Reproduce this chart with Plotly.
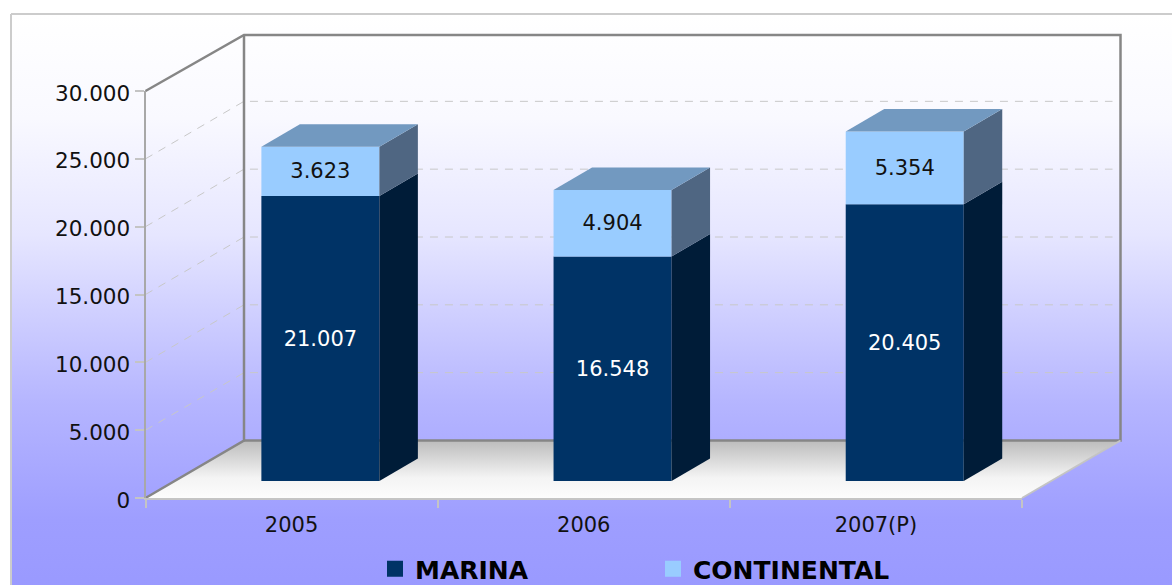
import plotly.graph_objects as go

CATEGORIES = ["2005", "2006", "2007(P)"]
MARINA = [21007, 16548, 20405]
CONTINENTAL = [3623, 4904, 5354]
Y_TICKS = [0, 5000, 10000, 15000, 20000, 25000, 30000]

W, H = 1172, 585
LEFT, RIGHT, BOTTOM, TOP = 145.5, 1022, 498, 91
PX_X = (RIGHT - LEFT) / 3
PX_Y = (BOTTOM - TOP) / 30000


def dx(px):
    return px / PX_X


def dy(px):
    return px / PX_Y


def X(px):
    return -0.5 + (px - LEFT) / PX_X


def Y(py):
    return (BOTTOM - py) / PX_Y


WALL_DX, WALL_DY = dx(98.5), dy(57.5)
WALL_TOP = 30000 + WALL_DY - dy(1.5)
BAR_SHIFT_X, BAR_SHIFT_Y = dx(28.8), dy(17)
BAR_W = dx(118)
BAR_DX, BAR_DY = dx(38.5), dy(22.5)
X0, X1 = -0.5, 2.5

fig = go.Figure()


def poly(xs, ys, fill=None, line=None, lw=0, dash=None, axes=("x", "y"), **kw):
    fig.add_trace(go.Scatter(
        x=xs, y=ys, mode="lines", xaxis=axes[0], yaxis=axes[1], showlegend=False,
        hoverinfo="skip",
        fill="toself" if fill or "fillgradient" in kw else "none",
        fillcolor=fill,
        line=dict(color=line or "rgba(0,0,0,0)", width=lw, dash=dash), **kw))


def back(v):
    return v + WALL_DY


# background panel
bx = [X(11), X(1180), X(1180), X(11), X(11)]
by = [Y(14), Y(14), Y(595), Y(595), Y(14)]
poly(bx, by, line="#cccccc", lw=2, fillgradient=dict(
    type="vertical",
    colorscale=[[0, "#9999ff"], [0.13, "#9e9eff"], [0.33, "#b5b5ff"], [0.62, "#e6e6ff"],
                [0.82, "#f9f9ff"], [1, "#ffffff"]],
))

# floor
poly([X0, X1, X1 + WALL_DX, X0 + WALL_DX, X0], [0, 0, back(0), back(0), 0],
     fillgradient=dict(type="vertical",
                       colorscale=[[0, "#fcfcfc"], [0.35, "#f4f4f4"], [1, "#bcbcbc"]]))

# gridlines on both walls
for v in Y_TICKS[1:-1]:
    poly([X0, X0 + WALL_DX, X1 + WALL_DX - dx(8)], [v, back(v), back(v)],
         line="#c8c8c8", lw=1, dash="8px 7px")

# wall outline
poly([X0, X0 + WALL_DX, X0 + WALL_DX], [0, back(0), WALL_TOP], line="#868686", lw=2.5)
poly([X0, X0 + WALL_DX, X1 + WALL_DX, X1 + WALL_DX, X0 + WALL_DX],
     [30000, WALL_TOP, WALL_TOP, back(0), back(0)], line="#868686", lw=2.5)
poly([X1, X1 + WALL_DX], [0, back(0)], line="#c4c4c4", lw=2)

bar_x = [i + BAR_SHIFT_X for i in range(len(CATEGORIES))]
base_m = [BAR_SHIFT_Y] * 3
base_c = [BAR_SHIFT_Y + m for m in MARINA]


def fmt(v):
    return f"{v:,}".replace(",", ".")


LABEL = dict(family="DejaVu Sans", size=21)
fig.add_trace(go.Bar(x=bar_x, y=MARINA, base=base_m, width=BAR_W, xaxis="x2", yaxis="y2",
                     marker=dict(color="#003366", line=dict(width=0)), showlegend=False,
                     text=[fmt(v) for v in MARINA], textposition="inside", insidetextanchor="middle",
                     textangle=0, constraintext="none",
                     textfont=dict(color="#ffffff", **LABEL), hoverinfo="skip"))
fig.add_trace(go.Bar(x=bar_x, y=CONTINENTAL, base=base_c, width=BAR_W, xaxis="x2", yaxis="y2",
                     marker=dict(color="#99ccff", line=dict(width=0)), showlegend=False,
                     text=[fmt(v) for v in CONTINENTAL], textposition="inside", insidetextanchor="middle",
                     textangle=0, constraintext="none",
                     textfont=dict(color="#111111", **LABEL), hoverinfo="skip"))

# 3D faces of the bars
AX2 = ("x2", "y2")
for i, xc in enumerate(bar_x):
    r = xc + BAR_W / 2
    l = xc - BAR_W / 2
    b0, b1 = base_m[i], base_c[i]
    b2 = b1 + CONTINENTAL[i]
    poly([r, r + BAR_DX, r + BAR_DX, r, r], [b0, b0 + BAR_DY, b1 + BAR_DY, b1, b0], fill="#001c38", axes=AX2)
    poly([r, r + BAR_DX, r + BAR_DX, r, r], [b1, b1 + BAR_DY, b2 + BAR_DY, b2, b1], fill="#4f6682", axes=AX2)
    poly([l, r, r + BAR_DX, l + BAR_DX, l], [b2, b2, b2 + BAR_DY, b2 + BAR_DY, b2], fill="#7299c0", axes=AX2)

# legend entries
for name, color in (("MARINA", "#003366"), ("CONTINENTAL", "#99ccff")):
    fig.add_trace(go.Scatter(x=[None], y=[None], mode="markers", name=name, xaxis="x2", yaxis="y2",
                             marker=dict(symbol="square", size=17, color=color)))

# carrier for the visible axes
fig.add_trace(go.Scatter(x=[0], y=[0], mode="markers", marker=dict(opacity=0), xaxis="x3", yaxis="y3",
                         showlegend=False, hoverinfo="skip"))

FONT = dict(family="DejaVu Sans", size=21, color="#111111")
FONT_Y = dict(family="DejaVu Sans", size=21.5, color="#111111")
FULL_X = [X(0), X(W)]
FULL_Y = [Y(H), Y(0)]
hidden = dict(domain=[0, 1], visible=False, fixedrange=True)
fig.update_layout(
    width=W, height=H, autosize=False,
    margin=dict(l=0, r=0, t=0, b=0, pad=0, autoexpand=False),
    paper_bgcolor="#ffffff", plot_bgcolor="rgba(0,0,0,0)",
    separators=",.",
    barmode="overlay",
    font=FONT,
    xaxis=dict(range=FULL_X, anchor="y", **hidden),
    yaxis=dict(range=FULL_Y, anchor="x", **hidden),
    xaxis2=dict(range=FULL_X, anchor="y2", overlaying="x", **hidden),
    yaxis2=dict(range=FULL_Y, anchor="x2", overlaying="y", **hidden),
    xaxis3=dict(domain=[LEFT / W, RIGHT / W], range=[X0, X1], anchor="y3", tickmode="array",
                tickvals=list(range(3)), ticktext=CATEGORIES,
                ticks="", showgrid=False, zeroline=False, showline=True, linecolor="#c4c4c4", linewidth=2,
                ticklabelstandoff=7, tickfont=FONT,
                minor=dict(tickmode="array", tickvals=[-0.5, 0.5, 1.5, 2.5], ticks="outside", ticklen=8,
                           tickwidth=1.5, tickcolor="#c4c4c4", showgrid=False)),
    yaxis3=dict(domain=[(H - BOTTOM) / H, (H - TOP) / H], range=[0, 30000], anchor="x3", tickmode="array",
                tickvals=Y_TICKS, tickformat=",d", ticklabelshift=2,
                ticks="outside", ticklen=9, tickwidth=1.5, tickcolor="#c4c4c4", showgrid=False, zeroline=False,
                showline=True, linecolor="#a8a8a8", linewidth=2, tickfont=FONT_Y),
    legend=dict(orientation="h", x=375 / W, y=(H - 569) / H,
                xanchor="left", yanchor="middle", bgcolor="rgba(0,0,0,0)", borderwidth=0,
                entrywidth=233, entrywidthmode="pixels", itemsizing="trace",
                font=dict(family="DejaVu Sans", size=25, color="#000000", weight=700)),
)

fig.write_html("out.html", post_script="document.body.style.margin='0';",
               config=dict(displayModeBar=False))
